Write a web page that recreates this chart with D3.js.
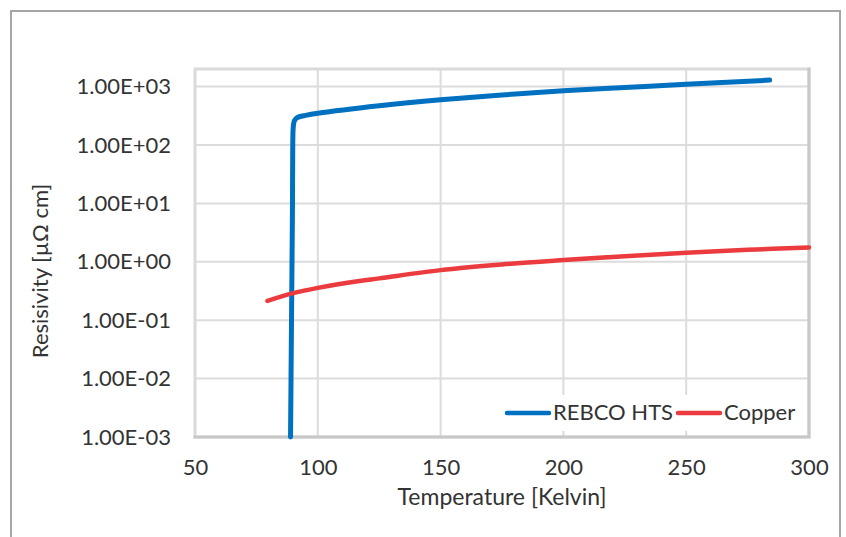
<!DOCTYPE html>
<html>
<head>
<meta charset="utf-8">
<script src="https://cdn.jsdelivr.net/npm/d3@7"></script>
<style>
  body { margin: 0; background: #fff; }
  svg { display: block; font-family: Lato, "Open Sans", sans-serif; }
</style>
</head>
<body>
<script>
// DATA //
const rebcoTemp = [88.9, 89.1, 89.3, 89.5, 89.7, 89.8, 90.0, 90.4, 91, 92, 95, 100, 125, 150, 175, 200, 225, 250, 284];
const rebcoRes = [0.001, 0.01, 0.1, 1, 10, 100, 200, 255, 280, 300, 322, 350, 470, 595, 720, 845, 965, 1100, 1290];

const copperTemp = [79.5, 90, 100, 117, 125, 150, 175, 200, 225, 250, 275, 300];
const copperRes = [0.214, 0.29, 0.358, 0.47, 0.52, 0.72, 0.90, 1.07, 1.25, 1.43, 1.60, 1.76];

const xTicks = [50, 100, 150, 200, 250, 300];
const yTicks = [1e-3, 1e-2, 1e-1, 1e0, 1e1, 1e2, 1e3];

const seriesNames = ['REBCO HTS', 'Copper'];
const seriesColors = ['#0070c0', '#eb3b3f'];

// LAYOUT //
const width = 846, height = 537;
const plot = { left: 195, right: 809, top: 69, bottom: 437 };
const textColor = '#333';

const svg = d3.select('body')
    .append('svg')
    .attr('width', width)
    .attr('height', height);

// outer frame
svg.append('rect')
    .attr('x', 11).attr('y', 11)
    .attr('width', 829).attr('height', 560)
    .attr('fill', '#fff')
    .attr('stroke', '#a6a6a6')
    .attr('stroke-width', 2);

// scales
const x = d3.scaleLinear().domain([50, 300]).range([plot.left, plot.right]);
const y = d3.scaleLog().domain([1e-3, 2e3]).range([plot.bottom, plot.top]);

// gridlines
svg.append('g')
    .selectAll('line')
    .data(yTicks)
    .join('line')
    .attr('x1', plot.left).attr('x2', plot.right)
    .attr('y1', d => y(d)).attr('y2', d => y(d))
    .attr('stroke', '#dcdcdc')
    .attr('stroke-width', 2);

svg.append('g')
    .selectAll('line')
    .data(xTicks)
    .join('line')
    .attr('x1', d => x(d)).attr('x2', d => x(d))
    .attr('y1', plot.top).attr('y2', plot.bottom)
    .attr('stroke', '#dcdcdc')
    .attr('stroke-width', 2);

// plot area border (lighter top/left, darker right/bottom)
svg.append('rect')
    .attr('x', plot.left).attr('y', plot.top)
    .attr('width', plot.right - plot.left).attr('height', plot.bottom - plot.top)
    .attr('fill', 'none')
    .attr('stroke', '#dadada')
    .attr('stroke-width', 3);
svg.append('path')
    .attr('d', `M${plot.right},${plot.top - 1.5}V${plot.bottom}H${plot.left - 1.5}`)
    .attr('fill', 'none')
    .attr('stroke', '#c8c8c8')
    .attr('stroke-width', 3);

// axes labels
const fmtSci = v => {
    const e = Math.round(Math.log10(v));
    return '1.00E' + (e < 0 ? '-' : '+') + String(Math.abs(e)).padStart(2, '0');
};

const yAxis = svg.append('g')
    .attr('transform', `translate(${plot.left},0)`)
    .call(d3.axisLeft(y).tickValues(yTicks).tickFormat(fmtSci).tickSize(0).tickPadding(24));
yAxis.select('.domain').remove();
yAxis.selectAll('text')
    .style('font-family', 'Lato, sans-serif')
    .style('font-size', '22px')
    .attr('fill', textColor);

const xAxis = svg.append('g')
    .attr('transform', `translate(0,${plot.bottom})`)
    .call(d3.axisBottom(x).tickValues(xTicks).tickFormat(d3.format('d')).tickSize(0).tickPadding(22));
xAxis.select('.domain').remove();
xAxis.selectAll('text')
    .style('font-family', 'Lato, sans-serif')
    .style('font-size', '22px')
    .attr('fill', textColor);

// axis titles
svg.append('text')
    .attr('x', (plot.left + plot.right) / 2)
    .attr('y', 505)
    .attr('text-anchor', 'middle')
    .attr('fill', textColor)
    .style('font-size', '23px')
    .text('Temperature [Kelvin]');

svg.append('text')
    .attr('transform', 'translate(48,271) rotate(-90)')
    .attr('text-anchor', 'middle')
    .attr('fill', textColor)
    .style('font-size', '22px')
    .text('Resisivity [µΩ cm]');

// lines
const series = [
    d3.zip(rebcoTemp, rebcoRes),
    d3.zip(copperTemp, copperRes)
];

const line = d3.line()
    .x(p => x(p[0]))
    .y(p => y(p[1]))
    .curve(d3.curveCatmullRom.alpha(0.5));

svg.append('g')
    .selectAll('path')
    .data(series)
    .join('path')
    .attr('d', line)
    .attr('fill', 'none')
    .attr('stroke', (d, i) => seriesColors[i])
    .attr('stroke-width', (d, i) => i === 0 ? 5 : 4.5)
    .attr('stroke-linecap', 'round')
    .attr('stroke-linejoin', 'round');

// legend
const legend = svg.append('g');
legend.append('rect')
    .attr('x', 498).attr('y', 395)
    .attr('width', 306).attr('height', 36)
    .attr('fill', '#fff');

const legendX = [507, 678];
const items = legend.selectAll('g')
    .data(seriesNames)
    .join('g')
    .attr('transform', (d, i) => `translate(${legendX[i]},413)`);
items.append('line')
    .attr('x1', 0).attr('x2', 42)
    .attr('stroke', (d, i) => seriesColors[i])
    .attr('stroke-width', 4.5)
    .attr('stroke-linecap', 'round');
items.append('text')
    .attr('x', 46)
    .attr('y', 7)
    .attr('fill', textColor)
    .style('font-size', '22px')
    .text(d => d);
</script>
</body>
</html>
